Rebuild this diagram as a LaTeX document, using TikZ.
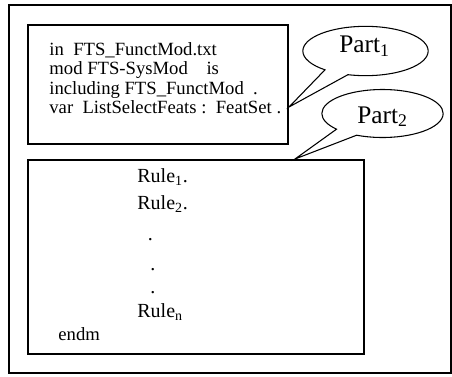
\documentclass[tikz,border=0pt]{standalone}
\usepackage{fontspec}
\setmainfont{Liberation Serif}
\usetikzlibrary{shapes.callouts,positioning}

\begin{document}
\begin{tikzpicture}[x=0.75pt,y=-0.75pt,semithick,
    box/.style={draw,line width=1.2pt,inner sep=0pt},
    code/.style={anchor=base west,inner sep=0pt,font=\fontsize{14}{16}\selectfont},
    rule/.style={anchor=base west,inner sep=0pt,font=\fontsize{15}{17}\selectfont},
    bubble/.style={ellipse callout,draw,line width=0.8pt,fill=white,
                   callout pointer arc=24,inner sep=0pt},
    label/.style={anchor=base west,inner sep=0pt,font=\fontsize{19}{21}\selectfont}]
    \useasboundingbox (0,0) rectangle (452,376);
    % ------------------------------------------------------------------
    %                             BOXES
    % ------------------------------------------------------------------
    \node[draw,line width=0.8pt,minimum width=331.5pt,minimum height=276pt] (frame) at (230,189) {};
    \node[box,minimum width=195pt,minimum height=89.25pt] (header) at (158,84.5) {};
    \node[box,minimum width=252pt,minimum height=145.5pt] (body) at (196,257) {};

    % ------------------------------------------------------------------
    %                             TEXT
    % ------------------------------------------------------------------
    % module header
    \node[code] (l1) at (49,55)    {in\ \ FTS\_FunctMod.txt};
    \node[code] (l2) at (49,74.5)  {mod FTS-SysMod\ \ \ \ is};
    \node[code] (l3) at (49,94)    {including FTS\_FunctMod\ \ .};
    \node[code] (l4) at (49,113.5) {var\ \ ListSelectFeats :\ \ FeatSet .};
    % rules
    \node[rule] (r1) at (137,182.5) {Rule\textsubscript{1}.};
    \node[rule] (r2) at (137,209.5) {Rule\textsubscript{2}.};
    \node[rule] (d1) at (147.5,240) {.};
    \node[rule] (d2) at (150,270)   {.};
    \node[rule] (d3) at (150,293)   {.};
    \node[rule] (rn) at (137,317.5) {Rule\textsubscript{n}};
    \node[code] (end) at (58,340)   {endm};

    % ------------------------------------------------------------------
    %                             CALLOUTS
    % ------------------------------------------------------------------
    \coordinate (tip1) at (289,107);
    \coordinate (tip2) at (295,159);
    \node[bubble,minimum width=94pt,minimum height=37pt,
          callout absolute pointer={(tip1)}] (part1) at (365.5,51) {};
    \node[bubble,minimum width=91pt,minimum height=36pt,
          callout absolute pointer={(tip2)}] (part2) at (382.5,113.5) {};
    \node[label] (p1) at (339,52.5) {Part\textsubscript{1}};
    \node[label] (p2) at (357,123)  {Part\textsubscript{2}};
\end{tikzpicture}
\end{document}
